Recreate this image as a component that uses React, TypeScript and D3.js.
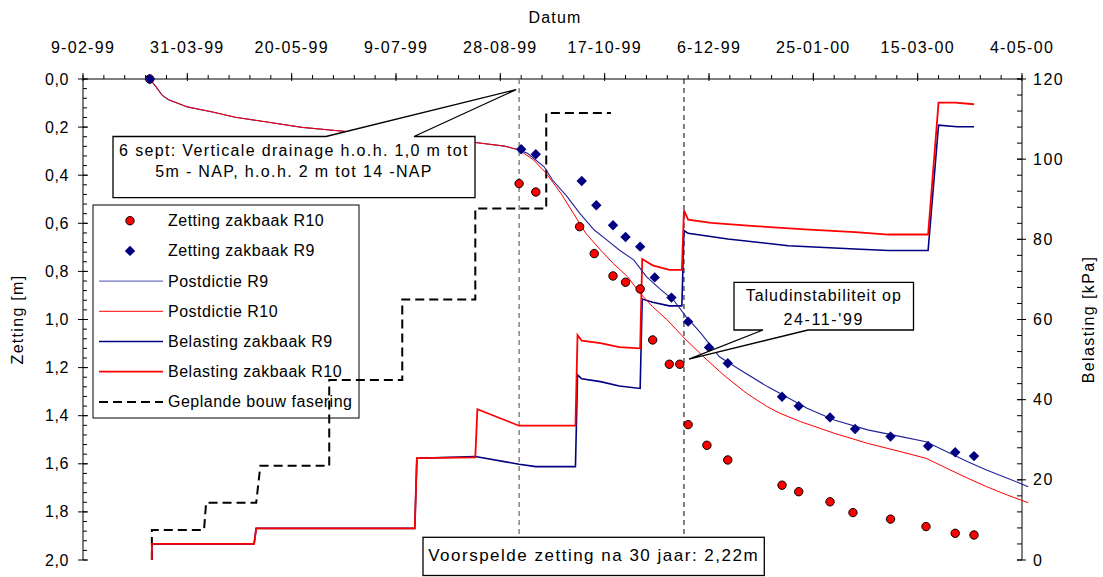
import React from "react";
import * as d3 from "d3";

// ---------- data ----------
const xTickDates = ["1999-02-09", "1999-03-31", "1999-05-20", "1999-07-09", "1999-08-28", "1999-10-17", "1999-12-06", "2000-01-25", "2000-03-15", "2000-05-04"];
const leftTicks = [0, 0.2, 0.4, 0.6, 0.8, 1.0, 1.2, 1.4, 1.6, 1.8, 2.0];
const rightTicks = [0, 20, 40, 60, 80, 100, 120];

type P = [string, number];

const zettingR10: P[] = [["1999-03-13", 0], ["1999-09-06", 0.435], ["1999-09-14", 0.47], ["1999-10-05", 0.614], ["1999-10-12", 0.726], ["1999-10-21", 0.819], ["1999-10-27", 0.845], ["1999-11-03", 0.873], ["1999-11-09", 1.085], ["1999-11-17", 1.186], ["1999-11-22", 1.186], ["1999-11-26", 1.437], ["1999-12-05", 1.523], ["1999-12-15", 1.584], ["2000-01-10", 1.689], ["2000-01-18", 1.716], ["2000-02-02", 1.758], ["2000-02-13", 1.803], ["2000-03-02", 1.83], ["2000-03-19", 1.861], ["2000-04-02", 1.889], ["2000-04-11", 1.896]];

const zettingR9: P[] = [["1999-03-13", 0], ["1999-09-07", 0.292], ["1999-09-14", 0.313], ["1999-10-06", 0.424], ["1999-10-13", 0.525], ["1999-10-21", 0.608], ["1999-10-27", 0.657], ["1999-11-03", 0.697], ["1999-11-10", 0.825], ["1999-11-18", 0.909], ["1999-11-26", 1.009], ["1999-12-06", 1.116], ["1999-12-15", 1.182], ["2000-01-10", 1.321], ["2000-01-18", 1.36], ["2000-02-02", 1.407], ["2000-02-14", 1.455], ["2000-03-02", 1.487], ["2000-03-20", 1.526], ["2000-04-02", 1.552], ["2000-04-11", 1.568]];

const postdictieR9: P[] = [["1999-03-13", 0], ["1999-03-16", 0.033], ["1999-03-19", 0.068], ["1999-03-22", 0.086], ["1999-03-31", 0.116], ["1999-04-12", 0.137], ["1999-04-23", 0.159], ["1999-05-09", 0.18], ["1999-05-25", 0.201], ["1999-06-11", 0.215], ["1999-07-20", 0.245], ["1999-08-16", 0.264], ["1999-08-30", 0.279], ["1999-09-06", 0.295], ["1999-09-10", 0.309], ["1999-09-18", 0.365], ["1999-09-22", 0.42], ["1999-09-29", 0.489], ["1999-10-05", 0.558], ["1999-10-12", 0.628], ["1999-10-18", 0.669], ["1999-10-24", 0.711], ["1999-10-31", 0.753], ["1999-11-06", 0.822], ["1999-11-13", 0.877], ["1999-11-19", 0.919], ["1999-11-25", 0.988], ["1999-12-02", 1.056], ["1999-12-11", 1.155], ["1999-12-21", 1.21], ["2000-01-03", 1.279], ["2000-01-12", 1.321], ["2000-01-22", 1.369], ["2000-02-04", 1.418], ["2000-02-20", 1.459], ["2000-03-07", 1.487], ["2000-03-19", 1.508], ["2000-03-29", 1.55], ["2000-04-08", 1.591], ["2000-04-17", 1.626], ["2000-04-27", 1.66], ["2000-05-07", 1.695]];

const postdictieR10: P[] = [["1999-03-13", 0], ["1999-03-16", 0.033], ["1999-03-19", 0.068], ["1999-03-22", 0.086], ["1999-03-31", 0.116], ["1999-04-12", 0.137], ["1999-04-23", 0.159], ["1999-05-09", 0.18], ["1999-05-25", 0.201], ["1999-06-11", 0.215], ["1999-07-20", 0.245], ["1999-08-16", 0.264], ["1999-08-30", 0.279], ["1999-09-06", 0.295], ["1999-09-13", 0.337], ["1999-09-19", 0.392], ["1999-09-26", 0.475], ["1999-10-02", 0.558], ["1999-10-08", 0.642], ["1999-10-15", 0.711], ["1999-10-21", 0.766], ["1999-10-28", 0.822], ["1999-11-03", 0.891], ["1999-11-09", 0.947], ["1999-11-16", 1.002], ["1999-11-25", 1.085], ["1999-12-05", 1.168], ["1999-12-14", 1.238], ["1999-12-24", 1.307], ["2000-01-03", 1.363], ["2000-01-09", 1.39], ["2000-01-19", 1.425], ["2000-02-04", 1.473], ["2000-02-20", 1.515], ["2000-03-07", 1.55], ["2000-03-19", 1.577], ["2000-03-29", 1.619], ["2000-04-08", 1.66], ["2000-04-17", 1.695], ["2000-04-27", 1.73], ["2000-05-07", 1.762]];

const belastingR9: P[] = [["1999-03-14", 0], ["1999-03-14", 4.0], ["1999-05-02", 4.0], ["1999-05-03", 7.9], ["1999-07-18", 7.9], ["1999-07-19", 25.4], ["1999-08-16", 25.8], ["1999-09-06", 23.9], ["1999-09-14", 23.3], ["1999-10-03", 23.3], ["1999-10-04", 46.2], ["1999-10-06", 45.2], ["1999-10-15", 44.5], ["1999-10-24", 43.4], ["1999-11-03", 42.8], ["1999-11-04", 65.1], ["1999-11-09", 64.3], ["1999-11-17", 63.4], ["1999-11-23", 63.4], ["1999-11-24", 82.2], ["1999-11-26", 81.5], ["1999-12-15", 80.1], ["2000-01-13", 78.4], ["2000-02-14", 77.6], ["2000-03-01", 77.2], ["2000-03-20", 77.2], ["2000-03-25", 108.5], ["2000-04-03", 108.1], ["2000-04-11", 108.1]];

const belastingR10: P[] = [["1999-03-14", 0], ["1999-03-14", 4.0], ["1999-05-02", 4.0], ["1999-05-03", 7.9], ["1999-07-18", 7.9], ["1999-07-19", 25.4], ["1999-08-16", 25.6], ["1999-08-17", 37.6], ["1999-09-06", 33.5], ["1999-10-03", 33.5], ["1999-10-04", 56.1], ["1999-10-06", 54.7], ["1999-10-15", 54.1], ["1999-10-24", 53.1], ["1999-11-03", 52.8], ["1999-11-04", 75.1], ["1999-11-09", 73.5], ["1999-11-17", 72.4], ["1999-11-23", 72.4], ["1999-11-24", 87.2], ["1999-11-26", 84.9], ["1999-12-07", 84.1], ["1999-12-28", 83.3], ["2000-01-21", 82.5], ["2000-02-14", 81.8], ["2000-03-01", 81.2], ["2000-03-20", 81.2], ["2000-03-25", 114.1], ["2000-04-02", 114.1], ["2000-04-11", 113.7]];

const geplandeFasering: P[] = [["1999-03-14", 0], ["1999-03-14", 7.5], ["1999-04-08", 7.5], ["1999-04-09", 14.3], ["1999-05-03", 14.3], ["1999-05-05", 23.5], ["1999-06-07", 23.5], ["1999-06-07", 44.9], ["1999-07-12", 44.9], ["1999-07-12", 65.0], ["1999-08-16", 65.0], ["1999-08-16", 87.7], ["1999-09-19", 87.7], ["1999-09-19", 111.5], ["1999-10-20", 111.5]];

const eventDates = ["1999-09-06", "1999-11-24"];

const legendLabels = ["Zetting zakbaak R10", "Zetting zakbaak R9", "Postdictie R9", "Postdictie R10", "Belasting zakbaak R9", "Belasting zakbaak R10", "Geplande bouw fasering"];

// ---------- styles ----------
const FONT = "'Liberation Sans', Arial, Helvetica, sans-serif";
const NAVY = "#000080";
const RED = "#ff0000";
const POST_BLUE = "#22229a";

export default function App() {
  const parse = d3.timeParse("%Y-%m-%d");
  const pd = (s: string) => parse(s) as Date;

  const left = 83, right = 1022, top = 79, bottom = 560;
  const x = d3.scaleTime().domain([pd(xTickDates[0]), pd(xTickDates[xTickDates.length - 1])]).range([left, right]);
  const yZ = d3.scaleLinear().domain([0, 2]).range([top, bottom]);
  const yB = d3.scaleLinear().domain([0, 120]).range([bottom, top]);

  const lineZ = d3.line<P>().x(d => x(pd(d[0]))).y(d => yZ(d[1]));
  const lineB = d3.line<P>().x(d => x(pd(d[0]))).y(d => yB(d[1]));

  const fmtDate = d3.timeFormat("%-d-%m-%y");
  const fmtZ = (v: number) => d3.format(".1f")(v).replace(".", ",");

  // minor ticks
  const xMinor = d3.timeDay.range(x.domain()[0], d3.timeDay.offset(x.domain()[1], 1), 10);
  const yZMinor = d3.range(0, 2.0001, 0.04);
  const yBMinor = d3.range(0, 120.001, 4);

  const dr = 5.2;
  const diamond = `M0,${-dr}L${dr},0L0,${dr}L${-dr},0Z`;

  const ev1 = x(pd(eventDates[0]));
  const ev2 = x(pd(eventDates[1]));

  const textStyle = { fontFamily: FONT, fontSize: 16, fill: "#000" } as React.CSSProperties;

  // legend geometry
  const lgX = 93, lgY = 205, lgW = 266, lgH = 213;
  const lgRowY = (i: number) => 220.7 + i * 30.2;

  // annotation 1 (6 sept)
  const a1 = { x0: 113, y0: 136.5, x1: 475, y1: 197.7, w0: 326, w1: 414, ax: ev1 - 3, ay: yZ(0.044) };
  const a1Path = `M${a1.x0},${a1.y0}H${a1.w0}L${a1.ax},${a1.ay}L${a1.w1},${a1.y0}H${a1.x1}V${a1.y1}H${a1.x0}Z`;
  // annotation 2 (Taludinstabiliteit)
  const a2 = { x0: 734, y0: 282.3, x1: 913.5, y1: 330, w0: 763, w1: 808, ax: ev2 + 5, ay: yZ(1.165) };
  const a2Path = `M${a2.x0},${a2.y0}H${a2.x1}V${a2.y1}H${a2.w1}L${a2.ax},${a2.ay}L${a2.w0},${a2.y1}H${a2.x0}Z`;
  // annotation 3 (bottom)
  const a3 = { x0: 423, y0: 537.3, x1: 764.3, y1: 575.5 };

  return (
    <svg width={1103} height={577} style={{ position: "absolute", left: 0, top: 0, background: "#fff" }}>
      <rect width={1103} height={577} fill="#fff" />

      {/* top axis */}
      <text x={555} y={23} textAnchor="middle" style={{ ...textStyle, letterSpacing: "1.2px" }}>Datum</text>
      <line x1={left} x2={right} y1={top} y2={top} stroke="#000" strokeWidth={1} />
      {xMinor.map((d, i) => (
        <line key={"xm" + i} x1={x(d)} x2={x(d)} y1={top - 4} y2={top} stroke="#000" strokeWidth={1} />
      ))}
      {xTickDates.map(s => (
        <g key={s}>
          <line x1={x(pd(s))} x2={x(pd(s))} y1={top - 6} y2={top + 2} stroke="#000" strokeWidth={1} />
          <text x={x(pd(s))} y={53} textAnchor="middle" style={{ ...textStyle, letterSpacing: "1.3px" }}>{fmtDate(pd(s))}</text>
        </g>
      ))}

      {/* left axis */}
      <line x1={left} x2={left} y1={top} y2={bottom} stroke="#000" strokeWidth={1} />
      {yZMinor.map((v, i) => (
        <line key={"zm" + i} x1={left} x2={left + 4} y1={yZ(v)} y2={yZ(v)} stroke="#000" strokeWidth={1} />
      ))}
      {leftTicks.map(v => (
        <g key={"zl" + v}>
          <line x1={left - 5} x2={left + 5} y1={yZ(v)} y2={yZ(v)} stroke="#000" strokeWidth={1} />
          <text x={69} y={yZ(v) + 5.5} textAnchor="end" style={{ ...textStyle, letterSpacing: "0.6px" }}>{fmtZ(v)}</text>
        </g>
      ))}
      <text transform={`translate(23,${(top + bottom) / 2}) rotate(-90)`} textAnchor="middle" style={{ ...textStyle, letterSpacing: "1.3px" }}>Zetting [m]</text>

      {/* right axis */}
      <line x1={right} x2={right} y1={top} y2={bottom} stroke="#000" strokeWidth={1} />
      {yBMinor.map((v, i) => (
        <line key={"bm" + i} x1={right - 5} x2={right} y1={yB(v)} y2={yB(v)} stroke="#000" strokeWidth={1} />
      ))}
      {rightTicks.map(v => (
        <g key={"br" + v}>
          <line x1={right - 5} x2={right + 4} y1={yB(v)} y2={yB(v)} stroke="#000" strokeWidth={1} />
          <text x={1033} y={yB(v) + 5.5} textAnchor="start" style={{ ...textStyle, letterSpacing: "1.5px" }}>{v}</text>
        </g>
      ))}
      <text transform={`translate(1094,${(top + bottom) / 2}) rotate(-90)`} textAnchor="middle" style={{ ...textStyle, letterSpacing: "1.4px" }}>Belasting [kPa]</text>

      {/* legend */}
      <rect x={lgX} y={lgY} width={lgW} height={lgH} fill="none" stroke="#000" strokeWidth={1} />
      {legendLabels.map((lab, i) => {
        const yy = lgRowY(i);
        let sample: React.ReactNode = null;
        if (i === 0) sample = <circle cx={130} cy={yy} r={4.2} fill={RED} stroke="#000" strokeWidth={1} />;
        else if (i === 1) sample = <path d={diamond} transform={`translate(130,${yy})`} fill={NAVY} />;
        else if (i === 2) sample = <line x1={99} x2={163} y1={yy} y2={yy} stroke="#6f6fbd" strokeWidth={1.3} />;
        else if (i === 3) sample = <line x1={99} x2={163} y1={yy} y2={yy} stroke={RED} strokeWidth={1} />;
        else if (i === 4) sample = <line x1={99} x2={163} y1={yy} y2={yy} stroke={NAVY} strokeWidth={1.6} />;
        else if (i === 5) sample = <line x1={99} x2={163} y1={yy} y2={yy} stroke={RED} strokeWidth={1.8} />;
        else sample = <line x1={99} x2={163} y1={yy} y2={yy} stroke="#000" strokeWidth={2} strokeDasharray="9,5" />;
        return (
          <g key={lab}>
            {sample}
            <text x={168} y={yy + 5.5} style={{ ...textStyle, letterSpacing: "0.5px" }}>{lab}</text>
          </g>
        );
      })}

      {/* event lines */}
      <line x1={ev1} x2={ev1} y1={top} y2={a3.y0} stroke="#666" strokeWidth={1.2} strokeDasharray="5,4" />
      <line x1={ev2} x2={ev2} y1={top} y2={a3.y0} stroke="#000" strokeWidth={1} strokeDasharray="5,4" />

      {/* series */}
      <path d={lineB(geplandeFasering) || ""} fill="none" stroke="#000" strokeWidth={2} strokeDasharray="9,5" />
      <path d={lineB(belastingR9) || ""} fill="none" stroke={NAVY} strokeWidth={1.6} />
      <path d={lineB(belastingR10) || ""} fill="none" stroke={RED} strokeWidth={1.8} />
      <path d={lineZ(postdictieR9) || ""} fill="none" stroke={POST_BLUE} strokeWidth={1.1} />
      <path d={lineZ(postdictieR10) || ""} fill="none" stroke={RED} strokeWidth={1} />
      {zettingR10.map((d, i) => (
        <circle key={"c" + i} cx={x(pd(d[0]))} cy={yZ(d[1])} r={4.2} fill={RED} stroke="#000" strokeWidth={1} />
      ))}
      {zettingR9.map((d, i) => (
        <path key={"dm" + i} d={diamond} transform={`translate(${x(pd(d[0]))},${yZ(d[1])})`} fill={NAVY} />
      ))}

      {/* annotations */}
      <path d={a1Path} fill="#fff" stroke="#000" strokeWidth={1.3} />
      <text x={(a1.x0 + a1.x1) / 2} y={155.5} textAnchor="middle" style={{ ...textStyle, letterSpacing: "1.35px" }}>6 sept: Verticale drainage h.o.h. 1,0 m tot</text>
      <text x={(a1.x0 + a1.x1) / 2} y={176.5} textAnchor="middle" style={{ ...textStyle, letterSpacing: "1.35px" }}>5m - NAP, h.o.h. 2 m tot 14 -NAP</text>

      <path d={a2Path} fill="#fff" stroke="#000" strokeWidth={1.3} />
      <text x={(a2.x0 + a2.x1) / 2} y={300.5} textAnchor="middle" style={{ ...textStyle, letterSpacing: "1.0px" }}>Taludinstabiliteit op</text>
      <text x={(a2.x0 + a2.x1) / 2} y={325} textAnchor="middle" style={{ ...textStyle, letterSpacing: "1.6px" }}>24-11-'99</text>

      <rect x={a3.x0} y={a3.y0} width={a3.x1 - a3.x0} height={a3.y1 - a3.y0} fill="#fff" stroke="#000" strokeWidth={1.3} />
      <text x={(a3.x0 + a3.x1) / 2} y={561} textAnchor="middle" style={{ ...textStyle, fontSize: 17, letterSpacing: "1.5px" }}>Voorspelde zetting na 30 jaar: 2,22m</text>
    </svg>
  );
}
